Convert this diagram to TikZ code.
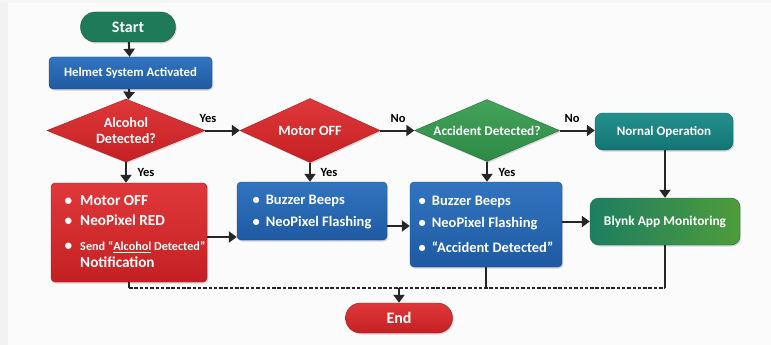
\documentclass[tikz,border=0pt]{standalone}
\usepackage{fontspec}
\setmainfont{Carlito}
\usetikzlibrary{shapes.geometric,shapes.misc,arrows.meta,shadows}
\definecolor{arrowc}{HTML}{262626}
\definecolor{startg}{HTML}{1E7A58}
\definecolor{blueA}{HTML}{3274C0}
\definecolor{blueB}{HTML}{1F5AA3}
\definecolor{redA}{HTML}{E0383A}
\definecolor{redB}{HTML}{C42023}
\definecolor{greenA}{HTML}{44A35A}
\definecolor{greenB}{HTML}{2C8A45}
\definecolor{tealA}{HTML}{23908E}
\definecolor{tealB}{HTML}{137573}
\definecolor{blyA}{HTML}{1D7E62}
\definecolor{blyB}{HTML}{4E9C3A}
\tikzset{
  every node/.style={font=\bfseries, text=white},
  shad/.style={drop shadow={opacity=0.3,shadow xshift=1.2pt,shadow yshift=-1.5pt}},
  term/.style={rounded rectangle, shad, inner sep=0pt},
  procbox/.style={rectangle, rounded corners=4pt, shad, inner sep=0pt},
  decis/.style={diamond, shad, inner sep=0pt, aspect=2.5},
  arr/.style={draw=arrowc, line width=2pt, -{Triangle[length=8pt,width=11pt]}},
  plain/.style={draw=arrowc, line width=1.6pt},
  dash line/.style={draw=arrowc, line width=1.3pt, dash pattern=on 3.5pt off 1.8pt},
  lbl/.style={text=black, font=\bfseries\fontsize{12.5}{14}\selectfont}
}
\begin{document}
\begin{tikzpicture}[x=1pt,y=-1pt]
\useasboundingbox (0,0) rectangle (771,345);
\fill[white!97!gray] (0,0) rectangle (771,345);
\fill[white!90!gray] (0,0) rectangle (8,345);
\fill[white!92!gray] (0,0) rectangle (771,3);

% terminals
\node[term, fill=startg, draw=startg!70!black, minimum width=95pt, minimum height=30pt,
  font=\bfseries\fontsize{16}{18}\selectfont] (start) at (128,27) {Start};
\node[term, top color=redA, bottom color=redB, draw=redB!80!black, minimum width=107pt, minimum height=30pt,
  font=\bfseries\fontsize{16}{18}\selectfont] (end) at (399,318) {End};

% process boxes
\node[procbox, top color=blueA, bottom color=blueB, draw=blueB!80!black, minimum width=163pt, minimum height=32pt,
  font=\bfseries\fontsize{12.8}{14}\selectfont] (helmet) at (130.5,73) {Helmet System Activated};

% decisions
\node[decis, top color=redA, bottom color=redB, draw=redB!85!black, minimum width=158pt, minimum height=63pt,
  align=center, font=\bfseries\fontsize{14.2}{16}\selectfont] (alc) at (126,130.5) {Alcohol\\Detected?};
\node[decis, top color=redA, bottom color=redB, draw=redB!85!black, minimum width=140pt, minimum height=64pt,
  font=\bfseries\fontsize{14.2}{16}\selectfont] (motor) at (310,130.5) {Motor OFF};
\node[decis, top color=greenA, bottom color=greenB, draw=greenB!80!black, minimum width=145pt, minimum height=62pt,
  font=\bfseries\fontsize{13.3}{15}\selectfont] (acc) at (487,130.5) {Accident Detected?};

\node[procbox, rounded corners=8pt, top color=tealA, bottom color=tealB, draw=tealB!80!black,
  minimum width=138pt, minimum height=37pt, font=\bfseries\fontsize{13}{14}\selectfont] (normal) at (664,131.5) {Nornal Operation};
\node[procbox, rounded corners=9pt, left color=blyA, right color=blyB, draw=blyA!80!black,
  minimum width=150pt, minimum height=47pt, font=\bfseries\fontsize{13.4}{15}\selectfont] (blynk) at (665,221.5) {Blynk App Monitoring};

% action boxes
\node[procbox, top color=redA, bottom color=redB, draw=redB!80!black, minimum width=156pt, minimum height=99pt,
  font=\bfseries\fontsize{15.2}{20}\selectfont] (redbox) at (129,232.5) {%
  \begin{tabular}{@{\hspace{12pt}}l@{\hspace{8pt}}l@{}}
  \textbullet & Motor OFF\\
  \textbullet & NeoPixel RED\\[5pt]
  \textbullet & {\fontsize{12.2}{13}\selectfont Send “\underline{Alcohol} Detected”}\\[-3pt]
   & Notification
  \end{tabular}};
\node[procbox, top color=blueA, bottom color=blueB, draw=blueB!80!black, minimum width=150pt, minimum height=58pt,
  font=\bfseries\fontsize{14.5}{22}\selectfont] (blue2) at (312,211) {%
  \begin{tabular}{@{}l@{\hspace{6pt}}l@{}}
  \textbullet & Buzzer Beeps\\
  \textbullet & NeoPixel Flashing
  \end{tabular}};
\node[procbox, top color=blueA, bottom color=blueB, draw=blueB!80!black, minimum width=152pt, minimum height=85pt,
  font=\bfseries\fontsize{14.5}{22}\selectfont] (blue3) at (486,224.5) {%
  \begin{tabular}{@{}l@{\hspace{6pt}}l@{}}
  \textbullet & Buzzer Beeps\\
  \textbullet & NeoPixel Flashing\\[3pt]
  \textbullet & “Accident Detected”
  \end{tabular}};

% main arrows
\draw[arr] (start) -- (helmet);
\draw[arr] (helmet) -- (alc);
\draw[arr] (alc.east) -- (motor.west);
\draw[arr] (motor.east) -- (acc.west);
\draw[arr] (acc.east) -- (acc.east -| normal.west);
\draw[arr] (alc.south) -- (alc.south |- redbox.north);
\draw[arr] (motor.south) -- (motor.south |- blue2.north);
\draw[arr] (acc.south) -- (acc.south |- blue3.north);
\draw[arr] (normal.south -| blynk.north) -- (blynk.north);
\draw[arr] (redbox.east |- 0,237) -- (blue2.west |- 0,237);
\draw[arr] (blue2.east |- 0,226) -- (blue3.west |- 0,226);
\draw[arr] (blue3.east |- blynk.west) -- (blynk.west);

% labels
\node[lbl] at (208,118) {Yes};
\node[lbl] at (146,172) {Yes};
\node[lbl] at (329,172) {Yes};
\node[lbl] at (507,172) {Yes};
\node[lbl] at (398,118) {No};
\node[lbl] at (572,118) {No};

% to end
\coordinate (j1) at (redbox.south |- 0,288);
\coordinate (j2) at (blue3.south |- 0,288);
\coordinate (j3) at (blynk.south |- 0,288);
\coordinate (j4) at (end.north |- 0,288);
\draw[plain] (redbox.south) -- (j1);
\draw[plain] (blue3.south) -- (j2);
\draw[plain] (blynk.south) -- (j3);
\draw[dash line] (j1) -- (j3);
\draw[arr] (j4) -- (end.north);
\end{tikzpicture}
\end{document}
